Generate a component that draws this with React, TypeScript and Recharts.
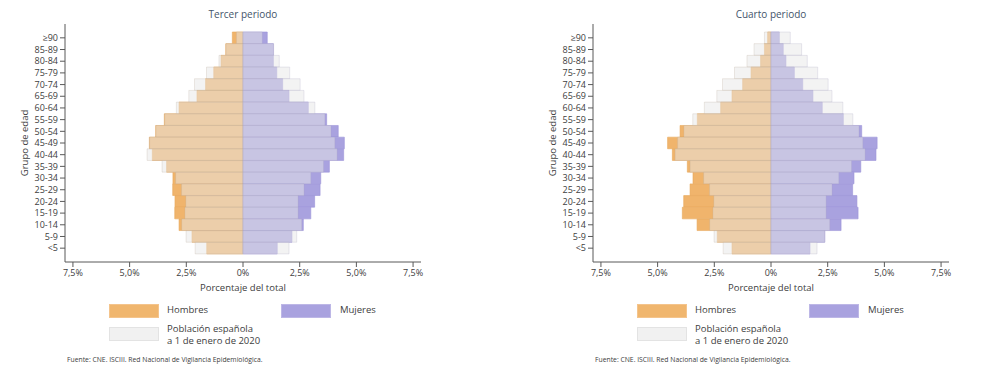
import React from "react";
import { BarChart, Bar, XAxis, YAxis } from "recharts";

const ageGroups = ["≥90", "85-89", "80-84", "75-79", "70-74", "65-69", "60-64", "55-59", "50-54", "45-49", "40-44", "35-39", "30-34", "25-29", "20-24", "15-19", "10-14", "5-9", "<5"];

// Población española a 1 de enero de 2020 (% del total)
const popMen = [0.29, 0.75, 1.06, 1.61, 2.14, 2.39, 2.94, 3.45, 3.84, 4.12, 4.23, 3.57, 2.97, 2.71, 2.52, 2.56, 2.7, 2.51, 2.11];
const popWomen = [0.85, 1.35, 1.6, 2.06, 2.52, 2.69, 3.17, 3.61, 3.88, 4.05, 4.15, 3.55, 2.99, 2.69, 2.43, 2.43, 2.59, 2.37, 2.03];

// Casos por periodo (% del total)
const thirdMen = [0.47, 0.76, 0.97, 1.29, 1.65, 2.03, 2.82, 3.47, 3.85, 4.13, 4.0, 3.37, 3.09, 3.1, 3.0, 3.01, 2.82, 2.25, 1.6];
const thirdWomen = [1.07, 1.34, 1.34, 1.49, 1.75, 2.03, 2.88, 3.69, 4.2, 4.47, 4.44, 3.81, 3.43, 3.4, 3.16, 2.99, 2.66, 2.16, 1.51];
const fourthMen = [0.15, 0.29, 0.46, 0.88, 1.25, 1.72, 2.22, 3.25, 4.01, 4.56, 4.35, 3.69, 3.44, 3.57, 3.85, 3.91, 3.26, 2.37, 1.72];
const fourthWomen = [0.37, 0.54, 0.66, 1.03, 1.4, 1.85, 2.26, 3.19, 4.0, 4.68, 4.63, 3.96, 3.66, 3.6, 3.79, 3.84, 3.09, 2.37, 1.72];

const xTicks = [-7.5, -5, -2.5, 0, 2.5, 5, 7.5];

const FONT = "'Open Sans', sans-serif";
const AXIS = "#595959";
const TEXT = "#404040";

const buildData = (men: number[], women: number[]) =>
  ageGroups.map((age, i) => ({
    age,
    men: -men[i],
    women: women[i],
    popMen: -popMen[i],
    popWomen: popWomen[i],
  }));

const fmtPct = (v: number) => (v === 0 ? "0%" : `${Math.abs(v).toFixed(1).replace(".", ",")}%`);

function Pyramid({ title, men, women, left }: { title: string; men: number[]; women: number[]; left: number }) {
  const data = buildData(men, women);
  return (
    <div style={{ position: "absolute", left, top: 0, width: 450, height: 385 }}>
      <div style={{ position: "absolute", left: 0, width: 486, top: 7, textAlign: "center", fontSize: 10, color: "#44546A" }}>
        {title}
      </div>
      <div
        style={{
          position: "absolute",
          left: 24,
          top: 143,
          fontSize: 9.5,
          color: TEXT,
          whiteSpace: "nowrap",
          transform: "translate(-50%, -50%) rotate(-90deg)",
        }}
      >
        Grupo de edad
      </div>
      <BarChart
        width={450}
        height={294}
        data={data}
        layout="vertical"
        margin={{ top: 24, right: 29, left: 0, bottom: 0 }}
        barCategoryGap={0}
        barGap={-11.6}
        barSize={11.6}
        stackOffset="sign"
      >
        <XAxis
          type="number"
          domain={[-7.85, 7.85]}
          ticks={xTicks}
          tickFormatter={fmtPct}
          height={32}
          tickSize={5}
          tickMargin={3}
          stroke={AXIS}
          tick={{ fill: TEXT, fontSize: 9, fontFamily: FONT }}
          label={{ value: "Porcentaje del total", position: "insideBottom", offset: 3, fill: TEXT, fontSize: 9.5, fontFamily: FONT }}
        />
        <YAxis
          type="category"
          dataKey="age"
          width={65}
          interval={0}
          padding={{ top: 8, bottom: 8 }}
          tickSize={5}
          tickMargin={2}
          stroke={AXIS}
          tick={{ fill: TEXT, fontSize: 9, fontFamily: FONT }}
        />
        <Bar dataKey="men" stackId="cases" fill="#F0B46C" stroke="#E8A75A" strokeWidth={0.6} isAnimationActive={false} />
        <Bar dataKey="women" stackId="cases" fill="#A9A2DF" stroke="#9C94D8" strokeWidth={0.6} isAnimationActive={false} />
        <Bar dataKey="popMen" stackId="pop" fill="#E8E8E8" fillOpacity={0.5} stroke="#B8A898" strokeOpacity={0.35} strokeWidth={0.7} isAnimationActive={false} />
        <Bar dataKey="popWomen" stackId="pop" fill="#E8E8E8" fillOpacity={0.5} stroke="#A8A4C0" strokeOpacity={0.35} strokeWidth={0.7} isAnimationActive={false} />
      </BarChart>
      <div style={{ position: "absolute", left: 109, top: 304, width: 48, height: 12, background: "#F0B66E", border: "1px solid #F4C48C" }} />
      <div style={{ position: "absolute", left: 167, top: 303, fontSize: 9.5, color: TEXT }}>Hombres</div>
      <div style={{ position: "absolute", left: 281, top: 304, width: 48, height: 12, background: "#A9A2DF", border: "1px solid #BDB7E6" }} />
      <div style={{ position: "absolute", left: 340, top: 303, fontSize: 9.5, color: TEXT }}>Mujeres</div>
      <div style={{ position: "absolute", left: 109, top: 327, width: 48, height: 12, background: "#F1F1F1", border: "1px solid #E3E3E3" }} />
      <div style={{ position: "absolute", left: 167, top: 323, fontSize: 9.5, lineHeight: "12px", color: TEXT }}>
        Población española
        <br />a 1 de enero de 2020
      </div>
      <div style={{ position: "absolute", left: 67, top: 355, fontSize: 6.8, color: TEXT, whiteSpace: "nowrap" }}>
        Fuente: CNE. ISCIII. Red Nacional de Vigilancia Epidemiológica.
      </div>
    </div>
  );
}

export default function App() {
  return (
    <div style={{ position: "absolute", left: 0, top: 0, width: 989, height: 385, background: "#fff", fontFamily: FONT }}>
      <Pyramid title="Tercer periodo" men={thirdMen} women={thirdWomen} left={0} />
      <Pyramid title="Cuarto periodo" men={fourthMen} women={fourthWomen} left={528} />
    </div>
  );
}
